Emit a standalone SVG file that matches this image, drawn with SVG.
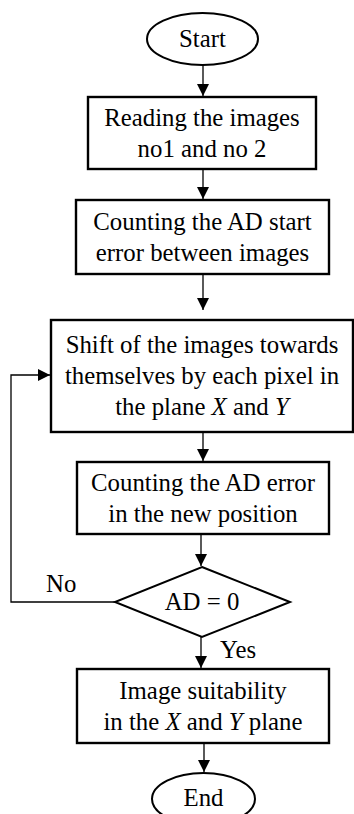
<svg xmlns="http://www.w3.org/2000/svg" width="354" height="814" viewBox="0 0 354 814">
<style>
.box{fill:#fff;stroke:#000;stroke-width:2.4}
.term{fill:#fff;stroke:#000;stroke-width:2}
.t{font-family:"Liberation Serif","Times New Roman",serif;font-size:24.8px;fill:#000;text-anchor:middle}
.l{font-family:"Liberation Serif","Times New Roman",serif;font-size:24.8px;fill:#000}
.i{font-style:italic}
.c{fill:none;stroke:#000;stroke-width:1.3}
</style>
<defs>
<marker id="ah" markerUnits="userSpaceOnUse" markerWidth="12" markerHeight="14" refX="12" refY="6" orient="auto" viewBox="0 0 12 12">
<path d="M0,0 L12,6 L0,12 Z" fill="#000"/>
</marker>
</defs>
<g id="connectors">
<line class="c" x1="203" y1="65" x2="203" y2="96" marker-end="url(#ah)"/>
<line class="c" x1="203" y1="169" x2="203" y2="199" marker-end="url(#ah)"/>
<line class="c" x1="203" y1="274" x2="203" y2="310" marker-end="url(#ah)"/>
<line class="c" x1="203" y1="432" x2="203" y2="461" marker-end="url(#ah)"/>
<line class="c" x1="201" y1="534" x2="201" y2="566" marker-end="url(#ah)"/>
<line class="c" x1="201" y1="637" x2="201" y2="668" marker-end="url(#ah)"/>
<line class="c" x1="204" y1="743" x2="204" y2="772" marker-end="url(#ah)"/>
<polyline class="c" points="115,602 11,602 11,375 50,375" marker-end="url(#ah)"/>
<text class="l" x="46" y="592">No</text>
<text class="l" x="220" y="658">Yes</text>
</g>
<g id="start">
<ellipse class="term" cx="202.5" cy="39" rx="55.5" ry="26"/>
<text class="t" x="202.5" y="47">Start</text>
</g>
<g id="read">
<rect class="box" x="88" y="97" width="228" height="72"/>
<text class="t" x="202" y="126">Reading the images</text>
<text class="t" x="202" y="157">no1 and no 2</text>
</g>
<g id="count-start">
<rect class="box" x="76" y="200" width="253" height="74"/>
<text class="t" x="202.5" y="230">Counting the AD start</text>
<text class="t" x="202.5" y="261">error between images</text>
</g>
<g id="shift">
<rect class="box" x="51" y="320" width="302" height="112"/>
<text class="t" x="202" y="353">Shift of the images towards</text>
<text class="t" x="202" y="384">themselves by each pixel in</text>
<text class="t" x="202" y="415">the plane <tspan class="i">X</tspan> and <tspan class="i">Y</tspan></text>
</g>
<g id="count-new">
<rect class="box" x="77" y="462" width="252" height="72"/>
<text class="t" x="203" y="491">Counting the AD error</text>
<text class="t" x="203" y="522">in the new position</text>
</g>
<g id="decision">
<polygon class="term" points="202,567 290,602 202,637 115,602"/>
<text class="t" x="202" y="610">AD = 0</text>
</g>
<g id="suitability">
<rect class="box" x="77" y="669" width="252" height="74"/>
<text class="t" x="203" y="699">Image suitability</text>
<text class="t" x="203" y="730">in the <tspan class="i">X</tspan> and <tspan class="i">Y</tspan> plane</text>
</g>
<g id="end">
<ellipse class="term" cx="203.5" cy="799" rx="51.5" ry="26"/>
<text class="t" x="203.5" y="806">End</text>
</g>
</svg>
